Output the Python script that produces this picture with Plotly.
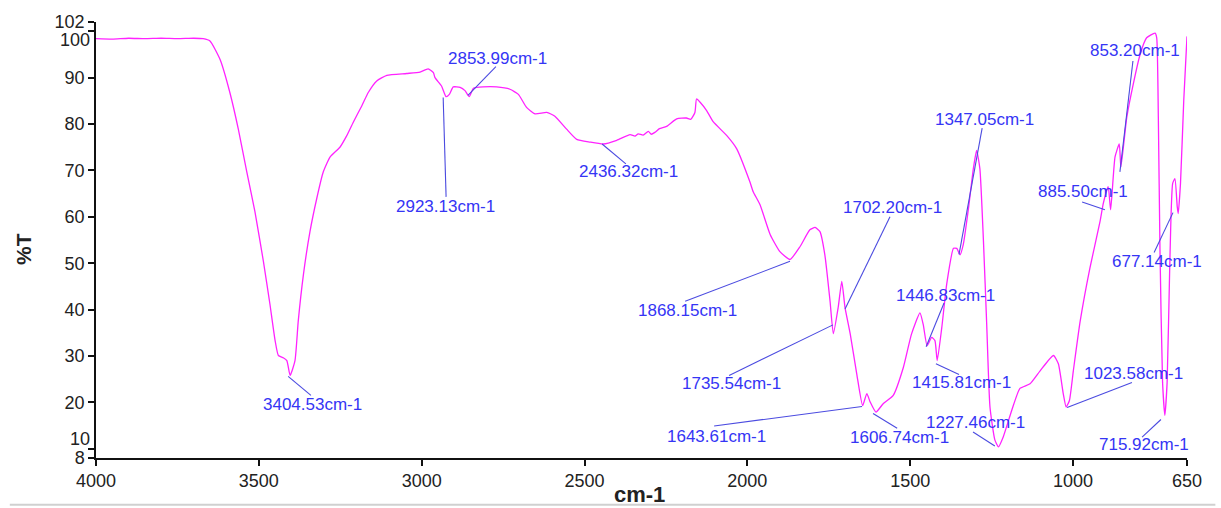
import plotly.graph_objects as go

# ---- spectrum ----
wavenumber = [4000, 3950, 3900, 3850, 3800, 3750, 3700, 3671, 3650, 3619, 3589, 3563, 3537, 3512,
              3486, 3466, 3450, 3440, 3425, 3414, 3404, 3389, 3379, 3363, 3343, 3322, 3302, 3281,
              3251, 3230, 3210, 3184, 3164, 3138, 3107, 3046, 3005, 2980, 2964, 2959, 2939, 2925,
              2915, 2903, 2882, 2867, 2854, 2841, 2811, 2770, 2729, 2703, 2678, 2652, 2616, 2591,
              2555, 2524, 2483, 2442, 2401, 2360, 2345, 2335, 2320, 2304, 2295, 2284, 2270, 2248,
              2217, 2187, 2174, 2161, 2156, 2145, 2125, 2105, 2063, 2033, 1992, 1982, 1961, 1930,
              1900, 1869, 1838, 1808, 1792, 1777, 1762, 1746, 1736, 1721, 1710, 1700, 1684, 1664,
              1646, 1633, 1623, 1605, 1583, 1552, 1521, 1496, 1470, 1460, 1448, 1434, 1424, 1417,
              1403, 1388, 1367, 1357, 1347, 1337, 1321, 1306, 1296, 1286, 1275, 1265, 1255, 1240,
              1229, 1214, 1188, 1163, 1132, 1101, 1060, 1045, 1030, 1021, 1011, 999, 978, 948,
              917, 907, 892, 884.5, 871, 858, 853, 835, 815, 794, 774, 748, 743, 738, 733, 725,
              718, 711, 703, 694, 687, 680, 677, 670, 660, 650]
transmittance = [98.4, 98.3, 98.5, 98.4, 98.5, 98.4, 98.5, 98.4, 97.9, 93.9, 86.8, 78.9, 69.7, 61.1,
                 50.4, 41.2, 33.3, 30.1, 29.6, 29.0, 25.8, 29.0, 37.5, 47.6, 56.8, 64.0, 69.7, 72.9,
                 75.0, 77.5, 80.4, 83.9, 86.8, 89.3, 90.5, 90.9, 91.2, 91.9, 91.1, 90.0, 88.2, 85.9,
                 86.4, 88.0, 87.9, 87.2, 85.9, 87.7, 88.0, 88.0, 87.5, 86.4, 83.6, 82.2, 82.5, 81.7,
                 78.9, 76.7, 76.1, 75.7, 76.5, 77.7, 77.4, 77.9, 77.6, 78.4, 77.8, 78.2, 79.0, 79.5,
                 81.1, 81.3, 81.0, 82.5, 85.4, 84.7, 82.9, 80.5, 77.5, 74.7, 67.5, 65.4, 62.6, 56.2,
                 52.5, 50.8, 53.6, 57.2, 57.7, 56.8, 51.8, 41.8, 34.8, 40.5, 46.1, 40.4, 34.7, 26.1,
                 19.3, 21.9, 20.1, 17.9, 19.7, 21.5, 27.5, 34.7, 39.3, 36.8, 32.2, 34.0, 33.3, 29.0,
                 36.1, 45.4, 53.2, 53.2, 51.8, 54.0, 61.8, 70.4, 74.3, 70.4, 54.7, 36.8, 19.0, 11.9,
                 10.4, 12.6, 18.3, 23.0, 24.0, 26.8, 30.1, 28.3, 21.9, 19.0, 20.4, 26.8, 37.5, 49.0,
                 59.0, 62.9, 66.5, 61.5, 72.9, 75.7, 70.7, 81.4, 88.6, 95.0, 98.6, 99.6, 98.6, 81.4,
                 53.0, 24.3, 17.2, 24.3, 49.3, 67.2, 68.2, 62.2, 60.7, 67.2, 85.0, 98.9]

# ---- axis ticks ----
x_ticks = [4000, 3500, 3000, 2500, 2000, 1500, 1000, 650]
y_ticks = [8, 10, 20, 30, 40, 50, 60, 70, 80, 90, 100, 102]

# ---- peak labels ----
peak_labels = ["3404.53cm-1", "2923.13cm-1", "2853.99cm-1", "2436.32cm-1", "1868.15cm-1",
               "1735.54cm-1", "1643.61cm-1", "1702.20cm-1", "1606.74cm-1", "1446.83cm-1",
               "1415.81cm-1", "1347.05cm-1", "1227.46cm-1", "1023.58cm-1", "885.50cm-1",
               "853.20cm-1", "677.14cm-1", "715.92cm-1"]
label_x = [3334, 2928, 2767, 2366, 2184, 2049, 2095, 1553, 1534, 1393, 1342, 1272, 1298, 813,
           969, 811, 742, 782]
label_y = [19.6, 62.2, 94.2, 69.7, 39.9, 24.0, 12.6, 62.1, 12.5, 43.1, 24.2, 81.0, 15.7, 26.3,
           65.4, 95.9, 50.4, 11.0]
line_x0 = [3410, 2934, 2858, 2446, 1869, 1737, 1648, 1700, 1614, 1451, 1421, 1350, 1240, 1018,
           902, 856, 693, 730]
line_y0 = [25.6, 85.7, 86.2, 75.7, 50.4, 36.7, 19.1, 40.1, 17.6, 32.0, 28.3, 51.9, 10.6, 18.9,
           61.5, 69.7, 60.9, 16.3]
line_x1 = [3340, 2925, 2772, 2373, 2191, 2056, 2102, 1562, 1540, 1396, 1350, 1279, 1307, 819,
           972, 816, 751, 788]
line_y1 = [21.5, 64.3, 92.4, 71.4, 41.8, 25.8, 14.9, 60.0, 14.4, 41.4, 26.0, 79.1, 13.6, 24.3,
           63.2, 93.6, 52.3, 12.5]

FONT = "Liberation Sans, Arial, sans-serif"
LABEL_BLUE = "#3535f5"
LINE_BLUE = "#4b4be0"

fig = go.Figure()
fig.add_trace(go.Scatter(x=wavenumber, y=transmittance, mode="lines",
                         line=dict(color="#ff22ff", width=1.3, shape="spline", smoothing=0.5),
                         hoverinfo="x+y", showlegend=False))

shapes = []
for i in range(len(peak_labels)):
    shapes.append(dict(type="line", xref="x", yref="y",
                       x0=line_x0[i], y0=line_y0[i], x1=line_x1[i], y1=line_y1[i],
                       line=dict(color=LINE_BLUE, width=1.1)))
# light frame line at the bottom of the image
shapes.append(dict(type="line", xref="paper", yref="paper", x0=-0.079, x1=1.026,
                   y0=-0.107, y1=-0.107, line=dict(color="#d0d0d0", width=2)))

annotations = []
for i, t in enumerate(peak_labels):
    annotations.append(dict(x=label_x[i], y=label_y[i], xref="x", yref="y", text=t,
                            showarrow=False, xanchor="center", yanchor="middle",
                            font=dict(family=FONT, size=17, color=LABEL_BLUE)))

# y tick labels that the original nudges apart
annotations.append(dict(x=0, y=100, xref="paper", yref="y", text="100", showarrow=False,
                        xanchor="right", yanchor="middle", xshift=-4, yshift=-9,
                        font=dict(family=FONT, size=18, color="#222222")))
annotations.append(dict(x=0, y=10, xref="paper", yref="y", text="10", showarrow=False,
                        xanchor="right", yanchor="middle", xshift=-4, yshift=10,
                        font=dict(family=FONT, size=18, color="#222222")))
# axis titles
annotations.append(dict(x=-0.066, y=0.4795, xref="paper", yref="paper", text="<b>%T</b>",
                        showarrow=False, textangle=-90, xanchor="center", yanchor="middle",
                        font=dict(family=FONT, size=21, color="#222222")))
annotations.append(dict(x=0.4986, y=-0.084, xref="paper", yref="paper", text="<b>cm-1</b>",
                        showarrow=False, xanchor="center", yanchor="middle",
                        font=dict(family=FONT, size=22, color="#222222")))

y_ticktext = ["" if v in (10, 100) else str(v) for v in y_ticks]

fig.update_layout(
    width=1221, height=508,
    margin=dict(l=96, r=34, t=19, b=50),
    paper_bgcolor="white", plot_bgcolor="white",
    shapes=shapes, annotations=annotations,
    xaxis=dict(range=[4000, 650], tickmode="array", tickvals=x_ticks,
               ticktext=[str(v) for v in x_ticks],
               showline=True, linecolor="#111111", linewidth=1.5,
               ticks="outside", ticklen=6, tickcolor="#111111", tickwidth=1.5,
               showgrid=False, zeroline=False,
               tickfont=dict(family=FONT, size=18, color="#222222")),
    yaxis=dict(range=[8, 102], tickmode="array", tickvals=y_ticks, ticktext=y_ticktext,
               showline=True, linecolor="#111111", linewidth=1.5,
               ticks="outside", ticklen=6, tickcolor="#111111", tickwidth=1.5,
               showgrid=False, zeroline=False,
               tickfont=dict(family=FONT, size=18, color="#222222")),
)

fig.write_html("out.html")
